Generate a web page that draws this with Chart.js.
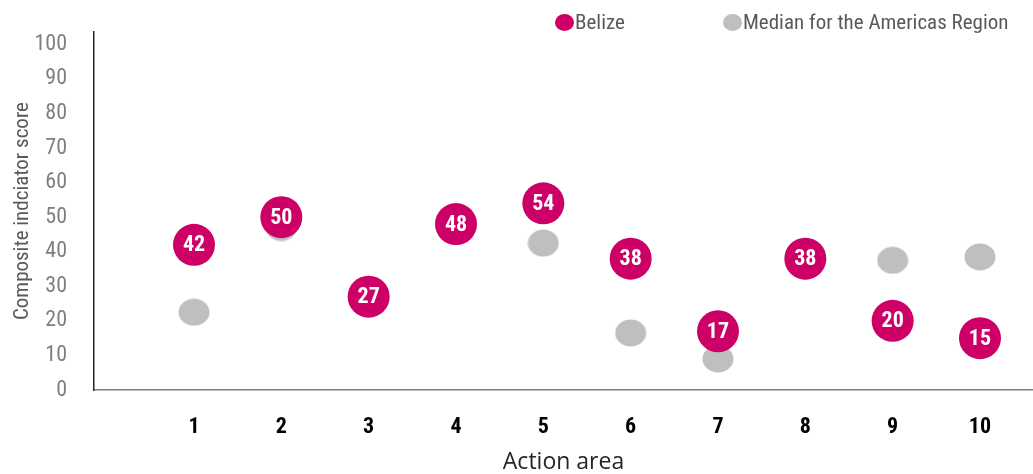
<!DOCTYPE html>
<html>
<head>
<meta charset="utf-8">
<script src="https://cdn.jsdelivr.net/npm/chart.js@4.4.1/dist/chart.umd.min.js"></script>
<style>
  html, body { margin: 0; padding: 0; background: #fff; }
  #wrap { position: relative; width: 1033px; height: 474px; }
  #legend { position: absolute; top: 0; left: 0; width: 1033px; height: 40px; pointer-events: none;
            font-family: 'Liberation Sans Narrow', 'Arial Narrow', 'Roboto Condensed', 'Liberation Sans', sans-serif;
            font-size: 21px; color: #595959; }
  .item { position: absolute; top: 11px; height: 22px; line-height: 22px; white-space: nowrap; }
  .dot { display: inline-block; width: 19px; height: 17px; border-radius: 50%; vertical-align: -2px; margin-right: 1px; }
</style>
</head>
<body>
<div id="wrap">
  <canvas id="myChart" width="1033" height="474"></canvas>
  <div id="legend"></div>
</div>
<script>
// chart values
var categories = ['1', '2', '3', '4', '5', '6', '7', '8', '9', '10'];
var belize = [42, 50, 27, 48, 54, 38, 17, 38, 20, 15];
var median = [22.5, 47, 26, 46, 42.5, 16.5, 9, 36, 37.5, 38.5];
var yTicks = [0, 10, 20, 30, 40, 50, 60, 70, 80, 90, 100];
var seriesNames = ['Belize', 'Median for the Americas Region'];
var seriesColors = ['#CC0066', '#BFBFBF'];

var narrow = "'Liberation Sans Narrow', 'Arial Narrow', 'Roboto Condensed', 'Liberation Sans', sans-serif";

// grey markers are slightly wider than tall
var ellipse = document.createElement('canvas');
ellipse.width = 32;
ellipse.height = 28;
var ec = ellipse.getContext('2d');
ec.fillStyle = seriesColors[1];
ec.beginPath();
ec.ellipse(16, 14, 15.5, 13.5, 0, 0, Math.PI * 2);
ec.fill();

// html legend
var legendEl = document.getElementById('legend');
var legendLeft = [555, 723];
seriesNames.forEach(function (name, i) {
    var d = document.createElement('div');
    d.className = 'item';
    d.style.left = legendLeft[i] + 'px';
    d.innerHTML = '<span class="dot" style="background:' + seriesColors[i] + '"></span>' + name;
    legendEl.appendChild(d);
});

// value labels inside the Belize circles
var valueLabels = {
    id: 'valueLabels',
    afterDatasetsDraw: function (chart) {
        var ctx = chart.ctx;
        var meta = chart.getDatasetMeta(0);
        ctx.save();
        ctx.fillStyle = '#ffffff';
        ctx.font = 'bold 22px ' + narrow;
        ctx.textAlign = 'center';
        ctx.textBaseline = 'middle';
        meta.data.forEach(function (pt, i) {
            ctx.fillText(String(belize[i]), pt.x, pt.y + 1);
        });
        ctx.restore();
    }
};

var ctx = document.getElementById('myChart').getContext('2d');
var myChart = new Chart(ctx, {
    type: 'scatter',
    data: {
        datasets: [{
            label: seriesNames[0],
            data: categories.map(function (c, i) { return { x: i + 1, y: belize[i] }; }),
            backgroundColor: seriesColors[0],
            borderWidth: 0,
            pointRadius: 21,
            pointHoverRadius: 21
        }, {
            label: seriesNames[1],
            data: categories.map(function (c, i) { return { x: i + 1, y: median[i] }; }),
            backgroundColor: seriesColors[1],
            borderWidth: 0,
            pointStyle: ellipse,
            pointRadius: 15,
            pointHoverRadius: 15
        }]
    },
    options: {
        responsive: false,
        animation: false,
        layout: { autoPadding: false, padding: { top: 28, left: 0, right: 0, bottom: 0 } },
        plugins: {
            legend: { display: false },
            tooltip: { enabled: false }
        },
        scales: {
            x: {
                type: 'linear',
                min: -0.145,
                max: 10.607,
                grid: { display: false },
                border: { display: true, color: '#7F7F7F', width: 1.5 },
                afterBuildTicks: function (scale) {
                    scale.ticks = categories.map(function (c, i) { return { value: i + 1 }; });
                },
                afterFit: function (scale) {
                    scale.height = 84;
                    scale.paddingLeft = 0;
                    scale.paddingRight = 0;
                },
                ticks: {
                    autoSkip: false,
                    maxRotation: 0,
                    padding: 16,
                    color: '#000000',
                    font: { family: narrow, size: 22, weight: 'bold' },
                    callback: function (v, i) { return categories[i]; }
                },
                title: {
                    display: true,
                    text: 'Action area',
                    color: '#262626',
                    padding: { top: 0, bottom: -2 },
                    font: { family: "'Open Sans', 'Noto Sans', sans-serif", size: 23 }
                }
            },
            y: {
                min: 0,
                max: 103.5,
                grid: { display: false },
                border: { display: true, color: '#262626', width: 1.5 },
                afterBuildTicks: function (scale) {
                    scale.ticks = yTicks.map(function (v) { return { value: v }; });
                },
                afterFit: function (scale) { scale.width = 94; },
                ticks: {
                    padding: 19,
                    color: '#7F7F7F',
                    font: { family: narrow, size: 22 }
                },
                title: {
                    display: true,
                    text: 'Composite indciator score',
                    color: '#595959',
                    padding: { top: 10, bottom: 0 },
                    font: { family: narrow, size: 21 }
                }
            }
        }
    },
    plugins: [valueLabels]
});
</script>
</body>
</html>
